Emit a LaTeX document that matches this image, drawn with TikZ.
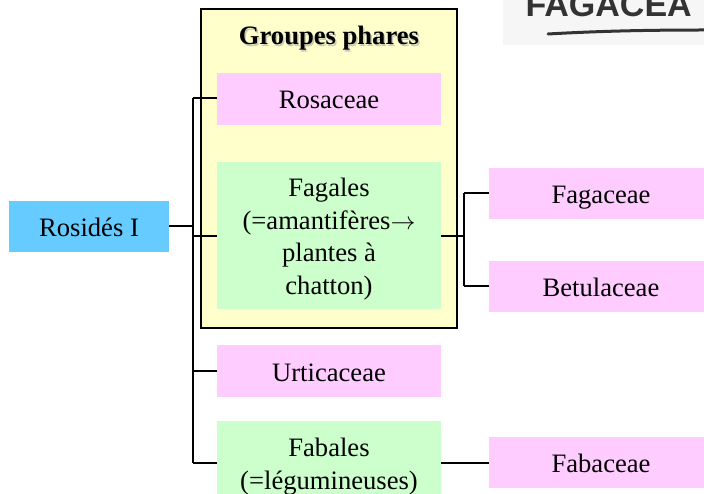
\documentclass[tikz,border=0pt]{standalone}
\usepackage{fontspec}
\setmainfont{Liberation Serif}
\newfontfamily\handfont{Liberation Sans}
\definecolor{bluebox}{HTML}{66CCFF}
\definecolor{pinkbox}{HTML}{FFCCFF}
\definecolor{greenbox}{HTML}{CCFFCC}
\definecolor{yellowbox}{HTML}{FFFFCC}
\definecolor{handgray}{HTML}{333333}
\definecolor{smudge}{HTML}{F6F6F6}
\newcommand{\lowtxt}[1]{\raisebox{-3.5pt}[\height][\depth]{\begin{tabular}{@{}c@{}}#1\end{tabular}}}
\tikzset{
  box/.style={rectangle, inner sep=0pt, minimum width=224pt, align=center,
    font=\fontsize{26.6}{32.5}\selectfont},
  pinkb/.style={box, fill=pinkbox, minimum height=51pt},
  greenb/.style={box, fill=greenbox},
  conn/.style={line width=2pt, black},
}
\begin{document}
\begin{tikzpicture}[x=1pt,y=-1pt]
\useasboundingbox (0,0) rectangle (704,494);
\clip (0,0) rectangle (704,494);
\fill[white] (0,0) rectangle (704,494);
% scanned fragment in the top right corner
\fill[smudge] (503,0) rectangle (704,45);
\node[anchor=base west, text=handgray, font=\handfont\bfseries\fontsize{34}{34}\selectfont] (hand) at (522,17) {FAGACEA};
\draw[handgray, line width=3pt, line cap=round] (548,34) .. controls (600,31) and (650,30) .. (704,30);
% group frame
\node[rectangle, draw=black, line width=2pt, fill=yellowbox, minimum width=256pt, minimum height=319pt, inner sep=0pt] (group) at (329,168.5) {};
\node[font=\fontsize{26.6}{30}\selectfont\bfseries, text=black!35, opacity=0.6] (titleshadow) at (330.5,40) {Groupes phares};
\node[font=\fontsize{26.6}{30}\selectfont\bfseries] (title) at (329,38.5) {Groupes phares};
% boxes
\node[box, fill=bluebox, minimum width=160pt, minimum height=51pt] (rosides) at (89,226.5) {\lowtxt{Rosidés I}};
\node[pinkb, minimum height=52pt] (rosaceae) at (329,99) {\lowtxt{Rosaceae}};
\node[greenb, minimum height=147pt] (fagales) at (329,235.5) {\lowtxt{Fagales\\(=amantifères$\rightarrow$\\plantes à\\chatton)}};
\node[pinkb] (fagaceae) at (601,193.5) {\lowtxt{Fagaceae}};
\node[pinkb] (betulaceae) at (601,286.5) {\lowtxt{Betulaceae}};
\node[pinkb, minimum height=52pt] (urticaceae) at (329,371) {\lowtxt{Urticaceae}};
\node[greenb, minimum height=84pt] (fabales) at (329,463) {\lowtxt{Fabales\\(=légumineuses)}};
\node[pinkb] (fabaceae) at (601,462.5) {\lowtxt{Fabaceae}};
% connectors
\coordinate (trunktop) at (193,98);
\coordinate (trunkbot) at (193,463);
\coordinate (trunkmid) at (193,226.5);
\coordinate (trunkfag) at (193,236);
\coordinate (trunkurt) at (193,371);
\coordinate (fagsplit) at (464,236);
\coordinate (fagtop) at (464,193.5);
\coordinate (fagbot) at (464,286.5);
\draw[conn] (rosides.east) -- (trunkmid);
\draw[conn] (trunktop) -- (trunkbot);
\draw[conn] (trunktop) -- (rosaceae.west |- trunktop);
\draw[conn] (trunkfag) -- (fagales.west |- trunkfag);
\draw[conn] (trunkurt) -- (urticaceae.west);
\draw[conn] (trunkbot) -- (fabales.west);
\draw[conn] (fabales.east) -- (fabaceae.west |- fabales.east);
\draw[conn] (fagales.east |- fagsplit) -- (fagsplit);
\draw[conn] (fagtop) -- (fagbot);
\draw[conn] (fagtop) -- (fagaceae.west);
\draw[conn] (fagbot) -- (betulaceae.west);
\end{tikzpicture}
\end{document}
